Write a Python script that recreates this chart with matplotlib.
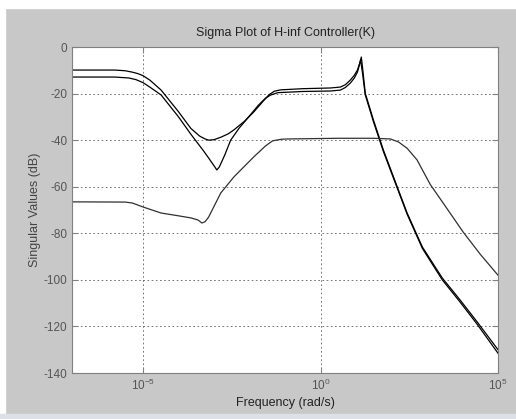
import matplotlib
matplotlib.use("Agg")
import matplotlib.pyplot as plt
import numpy as np

# log10(frequency in rad/s) and singular values in dB
logw_1 = [-7, -5.8, -5.5, -5.3, -5.15, -5.0, -4.8, -4.49, -4.0, -3.65, -3.4, -3.25, -3.15,
          -3.0, -2.8, -2.6, -2.44, -2.15, -1.88, -1.6, -1.45, -1.3, -1.12, -0.5, 0.28,
          0.56, 0.7, 0.84, 0.95, 1.04, 1.1, 1.15, 1.2, 1.26, 1.49, 1.77, 2.16, 2.44,
          2.87, 3.43, 3.93, 4.41, 5.0]
sv_1 = [-9.9, -9.9, -10.2, -10.8, -11.4, -12.3, -14.3, -18.5, -27.8, -35.0, -38.3, -39.5, -40.0,
        -39.8, -38.7, -37.3, -35.6, -32.0, -27.9, -23.0, -20.5, -19.0, -18.4, -17.9, -17.6,
        -17.2, -16.2, -14.2, -12.2, -9.9, -7.2, -4.3, -11.0, -19.8, -31.3, -44.2, -60.0, -71.3,
        -85.9, -99.2, -108.6, -118.0, -130.0]

logw_2 = [-7, -5.8, -5.4, -5.2, -5.0, -4.8, -4.49, -4.0, -3.65, -3.3, -3.15, -3.0, -2.92,
          -2.85, -2.7, -2.53, -2.3, -2.05, -1.75, -1.55, -1.4, -1.2, -0.5, 0.28, 0.56,
          0.7, 0.84, 0.95, 1.04, 1.08, 1.13, 1.19, 1.26, 1.49, 1.77, 2.16, 2.44, 2.87,
          3.43, 3.93, 4.41, 5.0]
sv_2 = [-12.9, -12.9, -13.3, -14.0, -15.3, -17.3, -20.6, -30.0, -37.5, -44.5, -47.7, -51.0, -52.8,
        -51.5, -46.5, -40.0, -35.0, -30.5, -25.0, -22.0, -20.6, -19.6, -19.1, -18.9, -18.5,
        -17.4, -15.5, -13.4, -10.8, -8.6, -5.6, -12.0, -20.5, -32.0, -44.8, -60.5, -71.8, -86.5,
        -100.0, -109.5, -119.0, -131.5]

logw_3 = [-7, -5.5, -5.3, -5.0, -4.49, -4.0, -3.65, -3.45, -3.34, -3.25, -3.15, -2.81,
          -2.44, -1.88, -1.55, -1.35, -1.1, -0.93, 0.5, 1.5, 1.97, 2.2, 2.44, 2.72, 3.09,
          3.5, 4.02, 4.5, 5.0]
sv_3 = [-66.5, -66.6, -67.0, -68.7, -71.3, -72.5, -73.4, -74.3, -75.6, -75.0, -73.0, -62.7,
        -55.8, -47.2, -42.5, -40.3, -39.6, -39.5, -39.2, -39.2, -39.5, -40.8, -43.5, -48.5, -59.0,
        -68.0, -79.5, -89.0, -98.0]

yticks = [0, -20, -40, -60, -80, -100, -120, -140]
xticks = [1e-5, 1e0, 1e5]
xticklabels = [r"$10^{-5}$", r"$10^{0}$", r"$10^{5}$"]

plt.rcParams["font.family"] = ["Liberation Sans", "DejaVu Sans"]
plt.rcParams["mathtext.fontset"] = "custom"
plt.rcParams["mathtext.rm"] = "Liberation Sans"
plt.rcParams["mathtext.it"] = "Liberation Sans"
plt.rcParams["axes.unicode_minus"] = False

bg = "#c8c8c8"
fig = plt.figure(figsize=(5.16, 4.19), dpi=100, facecolor=bg)
# white strips at top and left of the screenshot
fig.patches.append(plt.Rectangle((0, 1 - 8 / 419), 1, 8 / 419, transform=fig.transFigure,
                                 color="white", zorder=0))
fig.patches.append(plt.Rectangle((0, 0), 5 / 516, 1, transform=fig.transFigure,
                                 color="white", zorder=0))
fig.patches.append(plt.Rectangle((0, 0), 1, 5 / 419, transform=fig.transFigure,
                                 color="#dde0e6", zorder=0))

ax = fig.add_axes([72 / 516, 1 - 373 / 419, 426 / 516, 326 / 419])
ax.set_facecolor("white")

for lw_, sv, c in [(logw_1, sv_1, "black"), (logw_2, sv_2, "black"), (logw_3, sv_3, "#303030")]:
    ax.semilogx(10.0 ** np.array(lw_), sv, color=c, lw=0.9)

ax.set_xlim(1e-7, 1e5)
ax.set_ylim(-140, 0)
ax.set_yticks(yticks)
ax.set_xticks(xticks)
ax.set_xticklabels(xticklabels)
ax.minorticks_off()
ax.tick_params(direction="in", length=4, colors="#808080", labelcolor="#555555",
               labelsize=8.5, top=True, right=True)
for s in ax.spines.values():
    s.set_color("#808080")
    s.set_linewidth(0.8)
ax.grid(True, color="#606060", linestyle=(0, (2, 3)), linewidth=0.6)

ax.set_title("Sigma Plot of H-inf Controller(K)", fontsize=9, color="#222222", pad=8)
ax.set_xlabel("Frequency (rad/s)", fontsize=9, color="#222222", labelpad=3)
ax.set_ylabel("Singular Values (dB)", fontsize=9, color="#444444", labelpad=2)

fig.savefig("out.png", dpi=100, facecolor=bg)
